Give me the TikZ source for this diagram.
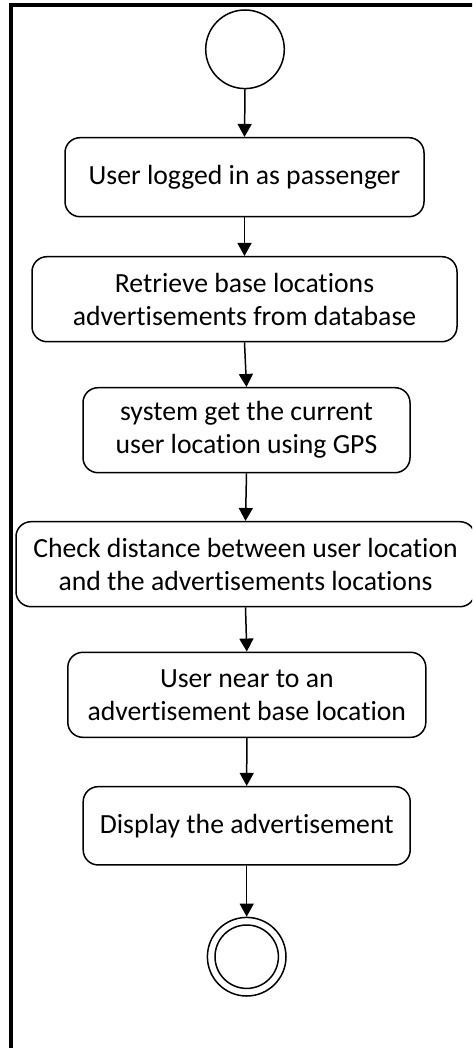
\documentclass[tikz,border=0pt]{standalone}
\usepackage{fontspec}
\setmainfont{Carlito}[Ligatures={NoCommon}]
\usetikzlibrary{arrows.meta}
\begin{document}
\begin{tikzpicture}[x=1pt,y=-1pt,
  act/.style={draw, line width=1.5pt, rounded corners=15pt, align=center,
    inner sep=0pt, font=\fontsize{27.7}{33}\selectfont},
  flow/.style={line width=1.5pt, -{Triangle[width=14pt,length=13pt]}},
  state/.style={circle, draw, line width=1.5pt, inner sep=0pt}]
\useasboundingbox (0,0) rectangle (472,1048);
\clip (0,0) rectangle (472,1048);
% frame
\draw[line width=4pt] (11,1060) -- (11,5) -- (480,5);
% nodes
\node[state, minimum size=78.6pt] (start) at (245,49.3) {};
\node[act, minimum width=359pt, minimum height=79pt] (a1) at (244.5,177.2) {User logged in as passenger};
\node[act, minimum width=425pt, minimum height=85pt] (a2) at (244.5,299.2) {Retrieve base locations\\advertisements from database};
\node[act, minimum width=327pt, minimum height=85pt] (a3) at (246.5,430.2) {system get the current\\user location using GPS};
\node[act, minimum width=459pt, minimum height=85pt] (a4) at (245.5,564.2) {Check distance between user location\\and the advertisements locations};
\node[act, minimum width=358pt, minimum height=85pt] (a5) at (246.8,694.8) {User near to an\\advertisement base location};
\node[act, minimum width=327pt, minimum height=78.3pt] (a6) at (246.7,825.8) {Display the advertisement};
\node[state, minimum size=78.6pt] (stop) at (246.7,956.7) {};
\node[state, minimum size=63.4pt] (stopin) at (stop) {};
% flows
\draw[flow] (start.south) -- (a1.north);
\draw[flow] (a1.south) -- (a2.north);
\draw[flow] (a2.south) -- (a3.north);
\draw[flow] (a3.south) -- (a4.north);
\draw[flow] (a4.south) -- (a5.north);
\draw[flow] (a5.south) -- (a6.north);
\draw[flow] (a6.south) -- (stop.north);
\end{tikzpicture}
\end{document}
